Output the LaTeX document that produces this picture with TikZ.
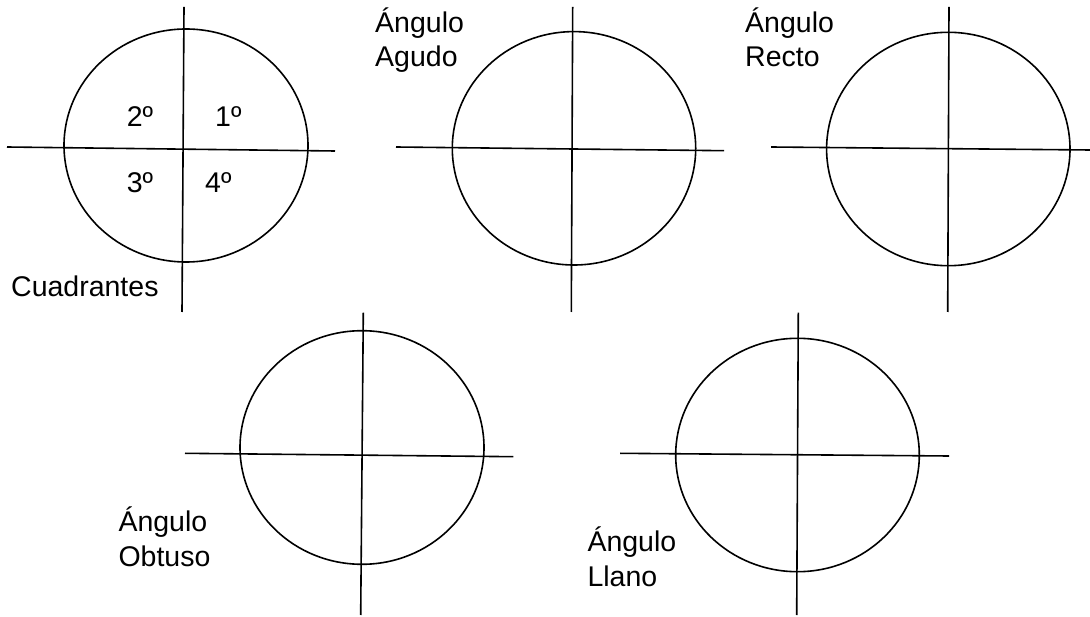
\documentclass[tikz,border=0pt]{standalone}
\usepackage{fontspec}
\setmainfont{Liberation Sans}
\begin{document}
\begin{tikzpicture}[x=1pt,y=-1pt,
  axis/.style={draw=black,line width=1.6pt},
  ring/.style={draw=black,line width=1.6pt},
  lbl/.style={anchor=base west,inner sep=0pt,font=\fontsize{28.5}{34}\selectfont}]
\useasboundingbox (0,0) rectangle (1090,617);
% circle 1: Cuadrantes
\coordinate (c1) at (186,145.5);
\coordinate (h1a) at (7,147); \coordinate (h1b) at (335,151);
\coordinate (v1a) at (184,7); \coordinate (v1b) at (182,312);
\draw[ring] (c1) ellipse [x radius=122pt, y radius=116.5pt];
\draw[axis] (h1a) -- (h1b);
\draw[axis] (v1a) -- (v1b);
\node[lbl] (q2) at (126.7,126.3) {2º};
\node[lbl] (q1) at (215,126.3) {1º};
\node[lbl] (q3) at (126.7,192.5) {3º};
\node[lbl] (q4) at (205,192.5) {4º};
\node[lbl] (t1) at (11,297) {Cuadrantes};
% circle 2: Agudo
\coordinate (c2) at (574,148.3);
\coordinate (h2a) at (396,147); \coordinate (h2b) at (724,150.7);
\coordinate (v2a) at (572.7,7); \coordinate (v2b) at (571.3,312);
\draw[ring] (c2) ellipse [x radius=121.7pt, y radius=116.7pt];
\draw[axis] (h2a) -- (h2b);
\draw[axis] (v2a) -- (v2b);
\node[lbl] (t2a) at (375,32.7) {Ángulo};
\node[lbl] (t2b) at (375,66.7) {Agudo};
% circle 3: Recto
\coordinate (c3) at (948.3,149);
\coordinate (h3a) at (771,147); \coordinate (h3b) at (1090,150);
\coordinate (v3a) at (949,7); \coordinate (v3b) at (947.7,312);
\draw[ring] (c3) ellipse [x radius=121.7pt, y radius=116.7pt];
\draw[axis] (h3a) -- (h3b);
\draw[axis] (v3a) -- (v3b);
\node[lbl] (t3a) at (745,32.3) {Ángulo};
\node[lbl] (t3b) at (745,66.7) {Recto};
% circle 4: Obtuso
\coordinate (c4) at (362,447.5);
\coordinate (h4a) at (185,453.3); \coordinate (h4b) at (513.3,456.7);
\coordinate (v4a) at (363.3,312.7); \coordinate (v4b) at (360.7,615);
\draw[ring] (c4) ellipse [x radius=122pt, y radius=116.8pt];
\draw[axis] (h4a) -- (h4b);
\draw[axis] (v4a) -- (v4b);
\node[lbl] (t4a) at (118.3,531.7) {Ángulo};
\node[lbl] (t4b) at (118.3,566.7) {Obtuso};
% circle 5: Llano
\coordinate (c5) at (797.5,455);
\coordinate (h5a) at (620,453.3); \coordinate (h5b) at (949,456);
\coordinate (v5a) at (798.3,312.7); \coordinate (v5b) at (796.7,615);
\draw[ring] (c5) ellipse [x radius=121.8pt, y radius=116.7pt];
\draw[axis] (h5a) -- (h5b);
\draw[axis] (v5a) -- (v5b);
\node[lbl] (t5a) at (587.3,551.7) {Ángulo};
\node[lbl] (t5b) at (587.3,586.7) {Llano};
\end{tikzpicture}
\end{document}
